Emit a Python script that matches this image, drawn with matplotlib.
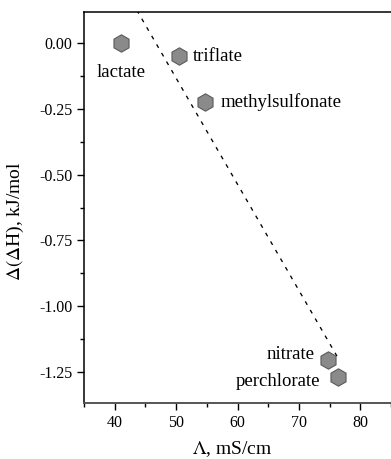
import matplotlib
matplotlib.use("Agg")
from matplotlib import pyplot as plt
from matplotlib.ticker import MultipleLocator, FormatStrFormatter

# data
anions = ["lactate", "triflate", "methylsulfonate", "nitrate", "perchlorate"]
cond = [41.1, 50.4, 54.7, 74.8, 76.4]
dH = [0.0, -0.050, -0.225, -1.205, -1.270]
fit_x = [43.6, 76.2]
fit_y = [0.125, -1.19]

plt.rcParams['font.family'] = ['Liberation Serif', 'DejaVu Serif']
plt.rcParams['mathtext.fontset'] = 'stix'

fig = plt.figure(figsize=(3.91, 4.59), dpi=100)
ax = fig.add_axes([84/391, 1 - 403/459, 1 - 84/391, (403 - 12)/459])

ax.plot(fit_x, fit_y, ls=(0, (3, 4.5)), color='black', lw=0.95)
ax.plot(cond, dH, ls='none', marker='h', ms=12.5, mfc='#8a8a8a', mec='#5a5a5a', mew=0.8)

# label placement (offset in points, alignment)
offs = {
    "lactate": ((0, -21), 'center', 'center'),
    "triflate": ((10, 0), 'left', 'center'),
    "methylsulfonate": ((11, 0), 'left', 'center'),
    "nitrate": ((-10, 4), 'right', 'center'),
    "perchlorate": ((-13, -3), 'right', 'center'),
}
for name, x, y in zip(anions, cond, dH):
    (dx, dy), ha, va = offs[name]
    ax.annotate(name, (x, y), xytext=(dx, dy), textcoords='offset points',
                ha=ha, va=va, fontsize=13.5)

ax.set_xlim(35, 85)
ax.set_ylim(-1.368, 0.118)
ax.xaxis.set_major_locator(MultipleLocator(10))
ax.xaxis.set_minor_locator(MultipleLocator(5))
ax.yaxis.set_major_locator(MultipleLocator(0.25))
ax.yaxis.set_minor_locator(MultipleLocator(0.125))
ax.yaxis.set_major_formatter(FormatStrFormatter('%.2f'))
ax.tick_params(which='both', direction='out', labelsize=11.5, width=1)
ax.tick_params(which='major', length=5)
ax.tick_params(which='minor', length=3)
ax.spines['right'].set_visible(False)
for s in ['left', 'top']:
    ax.spines[s].set_linewidth(1.1)
ax.spines['bottom'].set_linewidth(1.4)
ax.spines['bottom'].set_color('#555555')

ax.set_xlabel(r'$\Lambda$, mS/cm', fontsize=14)
ax.set_ylabel(r'$\Delta(\Delta$H), kJ/mol', fontsize=14)
ax.xaxis.set_label_coords(0.482, -0.092)
ax.yaxis.set_label_coords(-0.188, 0.465)

fig.savefig("out.png", dpi=100)
